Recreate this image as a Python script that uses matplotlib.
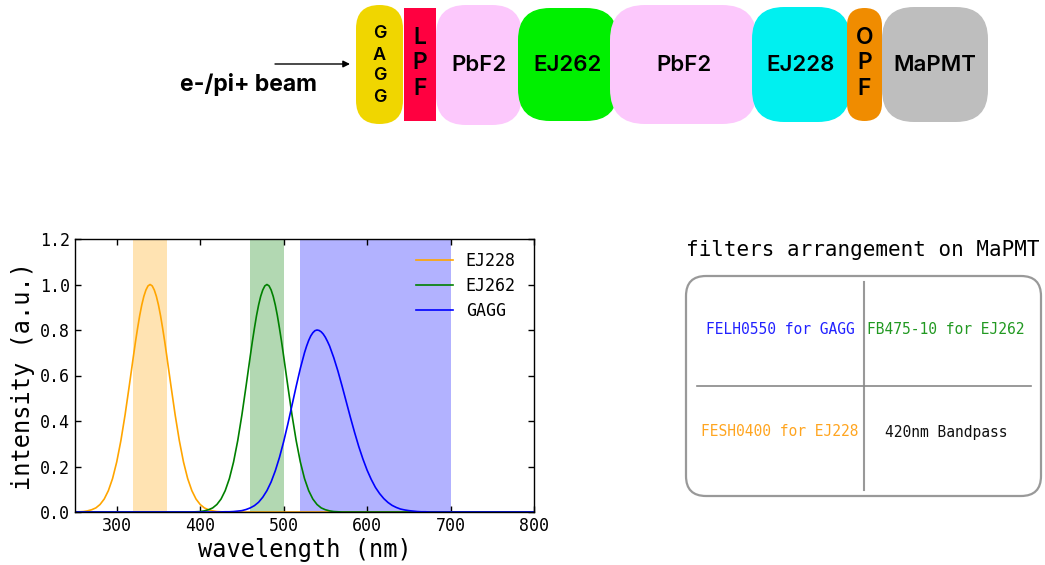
import matplotlib
matplotlib.use("Agg")
import matplotlib.pyplot as plt
from matplotlib.patches import FancyBboxPatch, Rectangle

# ---------------- data ----------------
EJ228_WL = [250, 255, 260, 265, 270, 275, 280, 285, 290, 295, 300, 305, 310, 315, 320,
            322.5, 325, 327.5, 330, 332.5, 335, 337.5, 340, 342.5, 345, 347.5, 350,
            352.5, 355, 357.5, 360, 365, 370, 375, 380, 385, 390, 395,
            400, 405, 410, 415, 420, 425, 430, 800]
EJ228_I = [0.001, 0.001, 0.002, 0.005, 0.010, 0.018, 0.033, 0.057, 0.094, 0.147, 0.220,
           0.314, 0.427, 0.554, 0.685,
           0.749, 0.808, 0.863, 0.910, 0.948, 0.976, 0.994, 1.000, 0.994, 0.976, 0.948,
           0.910, 0.863, 0.808, 0.749, 0.685, 0.554, 0.427, 0.314, 0.220, 0.147, 0.094,
           0.057, 0.033, 0.018, 0.010, 0.005, 0.002, 0.001, 0.000, 0.000]

EJ262_WL = [250, 390, 395, 400, 405, 410, 415, 420, 425, 430, 435, 440, 445, 450, 455, 460,
            462.5, 465, 467.5, 470, 472.5, 475, 477.5, 480, 482.5, 485, 487.5, 490,
            492.5, 495, 497.5, 500, 505, 510, 515, 520, 525, 530, 535,
            540, 545, 550, 555, 560, 565, 570, 800]
EJ262_I = [0.000, 0.000, 0.001, 0.002, 0.005, 0.010, 0.018, 0.033, 0.057, 0.094, 0.147,
           0.220, 0.314, 0.427, 0.554, 0.685,
           0.749, 0.808, 0.863, 0.910, 0.948, 0.976, 0.994, 1.000, 0.994, 0.976, 0.948,
           0.910, 0.863, 0.808, 0.749, 0.685, 0.554, 0.427, 0.314, 0.220, 0.147, 0.094,
           0.057, 0.033, 0.018, 0.010, 0.005, 0.002, 0.001, 0.000, 0.000]

GAGG_WL = [250, 415, 420, 430, 435, 440, 445, 450, 455, 460, 465, 470, 475, 480, 485, 490,
           495, 500, 505, 510, 515, 520, 525, 527.5, 530, 532.5, 535, 537.5, 540,
           542.5, 545, 547.5, 550, 552.5, 555, 560, 565,
           570, 575, 580, 585, 590, 595, 600, 605, 610, 615, 620, 625, 630, 635, 640,
           645, 650, 655, 660, 665, 670, 675, 800]
GAGG_I = [0.000, 0.000, 0.000, 0.001, 0.001, 0.002, 0.004, 0.006, 0.011, 0.018, 0.028,
          0.043, 0.065, 0.094, 0.132, 0.181, 0.240, 0.309, 0.386, 0.469, 0.552, 0.631,
          0.700, 0.729, 0.754, 0.774, 0.788, 0.797, 0.800,
          0.798, 0.792, 0.782, 0.768, 0.750, 0.730, 0.679, 0.620, 0.554, 0.485,
          0.416, 0.350, 0.288, 0.233, 0.184, 0.143, 0.108, 0.081, 0.059, 0.042, 0.029,
          0.020, 0.013, 0.009, 0.006, 0.004, 0.002, 0.001, 0.001, 0.000, 0.000]

SERIES_NAMES = ["EJ228", "EJ262", "GAGG"]
SERIES_COLORS = ["orange", "green", "blue"]
BANDS = [(320, 360), (460, 500), (520, 700)]   # filter pass bands (nm)

X_TICKS = [300, 400, 500, 600, 700, 800]
Y_TICKS = [0.0, 0.2, 0.4, 0.6, 0.8, 1.0, 1.2]

FILTER_TEXTS = ["FELH0550 for GAGG", "FB475-10 for EJ262",
                "FESH0400 for EJ228", "420nm Bandpass"]
FILTER_COLORS = ["#2222ff", "#229922", "#ffa520", "#111111"]

# diagram blocks: label, color
BLOCKS = [
    ("G\nA\nG\nG", "#f0d600"),
    ("L\nP\nF", "#ff0040"),
    ("PbF2", "#fcc8fc"),
    ("EJ262", "#00f000"),
    ("PbF2", "#fcc8fc"),
    ("EJ228", "#00f0f0"),
    ("O\nP\nF", "#f08c00"),
    ("MaPMT", "#bebebe"),
]

plt.rcParams['font.family'] = ['DejaVu Sans Mono']
W, H = 1045, 565
fig = plt.figure(figsize=(W / 100, H / 100), dpi=100)

# ---------------- spectrum plot ----------------
ax = fig.add_axes([75 / W, 1 - 512 / H, (534 - 75) / W, (512 - 239) / H])
for (lo, hi), c in zip(BANDS, SERIES_COLORS):
    ax.axvspan(lo, hi, color=c, alpha=0.3, lw=0)
for wl, inten, name, c in zip([EJ228_WL, EJ262_WL, GAGG_WL],
                              [EJ228_I, EJ262_I, GAGG_I], SERIES_NAMES, SERIES_COLORS):
    ax.plot(wl, inten, color=c, lw=1.2, label=name)
ax.set_xlim(250, 800)
ax.set_ylim(0, 1.2)
ax.set_xticks(X_TICKS)
ax.set_yticks(Y_TICKS)
ax.set_yticklabels([f"{v:.1f}" for v in Y_TICKS])
ax.tick_params(direction='in', top=True, right=True, labelsize=12, length=4, width=1)
ax.set_xlabel("wavelength (nm)", fontsize=17, labelpad=2)
ax.set_ylabel("intensity (a.u.)", fontsize=17, labelpad=4)
ax.legend(loc='upper right', bbox_to_anchor=(0.975, 0.976), frameon=False, fontsize=12,
          handlelength=2.2, borderaxespad=0, labelspacing=0.4)
for s in ax.spines.values():
    s.set_linewidth(1.0)

# ---------------- overlay (pixel coordinates) ----------------
ov = fig.add_axes([0, 0, 1, 1])
ov.set_xlim(0, W)
ov.set_ylim(H, 0)
ov.axis('off')

# block geometry (pixels): x0, x1, y0, y1, rounding
GEOM = [
    (356, 403, 5, 124, 23.5),
    (404, 436, 8, 121, 0),
    (436, 522, 5, 125, 30),
    (518, 618, 8, 121, 32),
    (610, 757, 5, 124, 35),
    (752, 850, 7, 122, 32),
    (847, 882, 8, 121, 17.5),
    (882, 988, 7, 122, 32),
]
for i, ((label, col), (x0, x1, y0, y1, r)) in enumerate(zip(BLOCKS, GEOM)):
    if r > 0:
        p = FancyBboxPatch((x0, y0), x1 - x0, y1 - y0,
                           boxstyle=f"round,pad=0,rounding_size={r}",
                           fc=col, ec='none', zorder=2 + i)
    else:
        p = Rectangle((x0, y0), x1 - x0, y1 - y0, fc=col, ec='none', zorder=2 + i)
    ov.add_patch(p)
    cx = (x0 + x1) / 2
    if "\n" in label:
        letters = label.split("\n")
        if len(letters) == 4:
            ys = [34, 55, 76, 97]
            fs = 13
        else:
            ys = [38, 63, 89]
            fs = 16.5
        for L, yy in zip(letters, ys):
            ov.text(cx, yy, L, ha='center', va='center', fontsize=fs,
                    family='Inter', weight='semibold', zorder=20)
    else:
        ov.text(cx, 65, label, ha='center', va='center', fontsize=16,
                family='Inter', weight='semibold', zorder=20)

ov.annotate("", xy=(350, 64), xytext=(275, 64),
            arrowprops=dict(arrowstyle='-|>', color='black', lw=1.0,
                            mutation_scale=10, shrinkA=0, shrinkB=0))
ov.text(249, 85, "e-/pi+ beam", ha='center', va='center', fontsize=16.5,
        family='Inter', weight='bold')

# filter arrangement box
ov.text(863, 250, "filters arrangement on MaPMT", ha='center', va='center',
        fontsize=15, family='DejaVu Sans Mono')
box = FancyBboxPatch((686, 276), 355, 220, boxstyle="round,pad=0,rounding_size=20",
                     fc='none', ec='#999999', lw=1.6)
ov.add_patch(box)
ov.plot([864, 864], [282, 490], color='#999999', lw=1.5)
ov.plot([697, 1031], [386, 386], color='#888888', lw=1.2)
pos = [(780, 329), (946, 329), (780, 432), (946, 432)]
for t, c, (x, y) in zip(FILTER_TEXTS, FILTER_COLORS, pos):
    ov.text(x, y, t, ha='center', va='center', fontsize=10.5, color=c,
            family='DejaVu Sans Mono')

fig.savefig("out.png", dpi=100)
